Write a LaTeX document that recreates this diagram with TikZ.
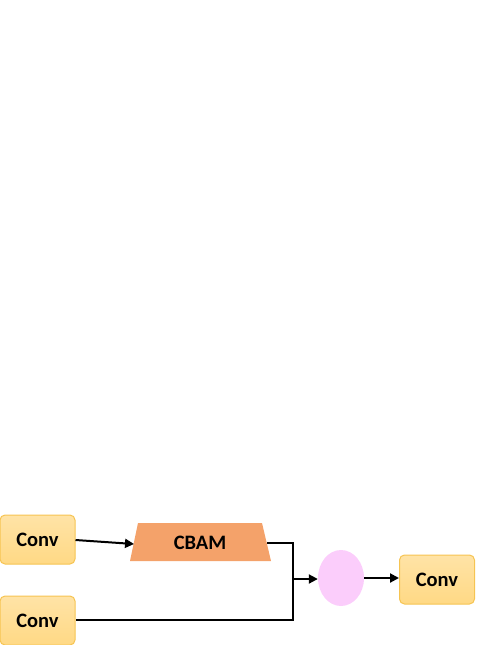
\documentclass[tikz,border=0pt]{standalone}
\usepackage{fontspec}
\setmainfont{Carlito}
\usetikzlibrary{shapes.geometric,arrows.meta}
\definecolor{convfill}{HTML}{FFD985}
\definecolor{convtop}{HTML}{FFE3A6}
\definecolor{convdraw}{HTML}{F6C452}
\definecolor{cbamfill}{HTML}{F4A26A}
\definecolor{pinkfill}{HTML}{FBCDFB}
\begin{document}
\begin{tikzpicture}[x=1pt,y=-1pt,
  convbox/.style={draw=convdraw,line width=1pt,rounded corners=5pt,top color=convtop,bottom color=convfill,minimum width=75pt,minimum height=49pt,font=\bfseries\fontsize{20.5}{24}\selectfont,inner sep=0pt},
  conn/.style={line width=2pt,black},
  arr/.style={conn,-{Triangle[length=9pt,width=9pt]}}]
\useasboundingbox (0,0) rectangle (498,645);
\node[convbox] (c1) at (37.5,539.5) {Conv};
\node[convbox] (c2) at (37.5,620.5) {Conv};
\node[convbox] (c3) at (437,579.5) {Conv};
\path[fill=cbamfill] (138,523) -- (262,523) -- (271,561) -- (130,561) -- cycle;
\node[font=\bfseries\fontsize{20.5}{24}\selectfont] (cbam) at (200,543) {CBAM};
\coordinate (cbamin) at (134,544);
\coordinate (cbamout) at (267,543);
\node[ellipse,fill=pinkfill,minimum width=46pt,minimum height=56pt,inner sep=0pt] (sum) at (341,578) {};
\coordinate (j1) at (293,543);
\coordinate (j2) at (293,620);
\coordinate (jm) at (293,579);
\draw[arr] (c1.east |- 0,540) -- (cbamin);
\draw[conn] (cbamout) -- (j1) -- (j2) -- (c2.east |- 0,620);
\draw[arr] (jm) -- (sum.west |- 0,579);
\draw[arr] (sum.east |- 0,578) -- (c3.west |- 0,578);
\end{tikzpicture}
\end{document}
